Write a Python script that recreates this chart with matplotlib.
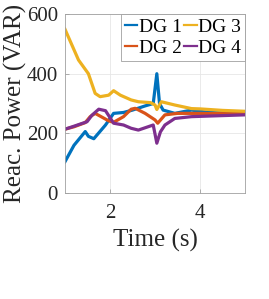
import matplotlib
matplotlib.use("Agg")
import matplotlib.pyplot as plt
import numpy as np

plt.rcParams['font.family'] = ['Liberation Serif', 'DejaVu Serif']

# Data
t1 = [1.0, 1.2, 1.45, 1.52, 1.64, 1.9, 2.08, 2.3, 2.5, 2.78, 2.96, 3.04, 3.1, 3.18, 3.44, 3.81, 4.2, 4.6, 5.0]
dg1 = [105, 160, 206, 190, 182, 228, 267, 270, 278, 292, 300, 400, 300, 278, 267, 278, 270, 268, 266]

t2 = [1.0, 1.2, 1.45, 1.56, 1.67, 1.97, 2.08, 2.3, 2.47, 2.56, 2.78, 3.0, 3.06, 3.22, 3.5, 4.0, 4.5, 5.0]
dg2 = [214, 222, 236, 256, 267, 242, 237, 256, 281, 284, 267, 245, 234, 262, 267, 267, 266, 266]

t3 = [1.0, 1.3, 1.52, 1.67, 1.78, 1.97, 2.08, 2.23, 2.47, 2.63, 2.9, 3.0, 3.04, 3.14, 3.44, 3.81, 4.0, 4.5, 5.0]
dg3 = [549, 446, 400, 334, 323, 328, 343, 328, 312, 306, 303, 295, 280, 306, 295, 283, 282, 277, 274]

t4 = [1.0, 1.2, 1.49, 1.6, 1.75, 1.9, 2.08, 2.3, 2.47, 2.63, 2.96, 3.04, 3.12, 3.22, 3.44, 3.81, 4.2, 4.6, 5.0]
dg4 = [214, 224, 239, 261, 281, 276, 234, 228, 217, 211, 228, 167, 205, 228, 250, 256, 258, 260, 262]

series = [("DG 1", t1, dg1, '#0072BD'), ("DG 2", t2, dg2, '#D95319'),
          ("DG 3", t3, dg3, '#EDB120'), ("DG 4", t4, dg4, '#7E2F8E')]

fig = plt.figure(figsize=(2.69, 2.99), dpi=100)
ax = fig.add_axes([0.2416, 0.3545, 0.6694, 0.5985])

lines = {}
for name, t, y, c in series:
    lines[name], = ax.plot(t, y, color=c, lw=2.3, label=name)

ax.set_xlim(1, 5)
ax.set_ylim(0, 600)
ax.set_xticks([2, 4])
ax.set_yticks([0, 200, 400, 600])
ax.grid(True, color='#e6e6e6', lw=0.6)
ax.set_axisbelow(True)
for s in ax.spines.values():
    s.set_color('#a0a0a0')
    s.set_linewidth(0.6)
ax.tick_params(direction='in', length=3, width=0.6, color='#a0a0a0',
               labelsize=15, labelcolor='#262626')
ax.tick_params(axis='x', pad=8)
ax.tick_params(axis='y', pad=5)
ax.set_xlabel('Time (s)', fontsize=18, color='#262626', labelpad=4)
ax.set_ylabel('Reac. Power (VAR)', fontsize=18, color='#262626', labelpad=0)

leg = ax.legend(handles=[lines["DG 1"], lines["DG 2"], lines["DG 3"], lines["DG 4"]],
                ncol=2, loc='upper right', fontsize=14, handlelength=0.65,
                handletextpad=0.08, columnspacing=0.12, borderpad=0.2,
                labelspacing=0.2, borderaxespad=0.0, fancybox=False, framealpha=1,
                edgecolor='#a0a0a0')
leg.get_frame().set_linewidth(0.6)
for h in leg.legend_handles:
    h.set_linewidth(1.6)

fig.savefig('out.png', dpi=100)
